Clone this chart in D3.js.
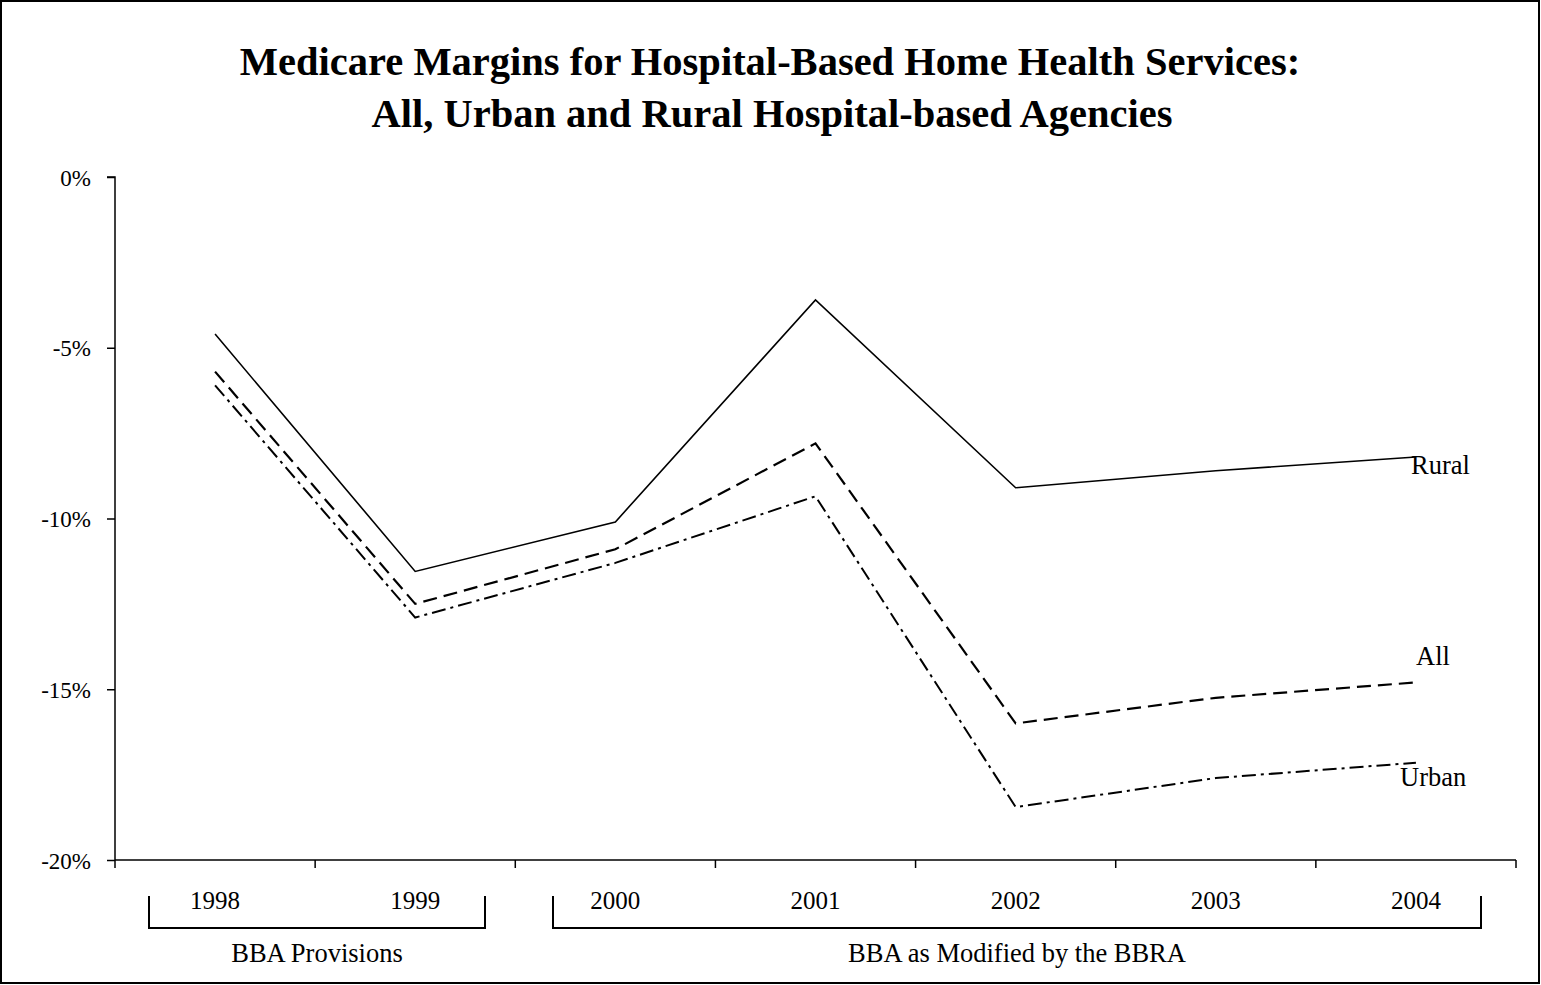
<!DOCTYPE html>
<html>
<head>
<meta charset="utf-8">
<script src="https://cdn.jsdelivr.net/npm/d3@7"></script>
<style>
  html, body { margin: 0; padding: 0; background: #fff; }
  svg { display: block; }
  text { font-family: "Liberation Serif", "Times New Roman", serif; fill: #000; }
</style>
</head>
<body>
<svg id="chart" width="1541" height="985"></svg>
<script>
const titleLines = ["Medicare Margins for Hospital-Based Home Health Services:",
                    "All, Urban and Rural Hospital-based Agencies"];
const years = ["1998", "1999", "2000", "2001", "2002", "2003", "2004"];
const rural = [-4.6, -11.55, -10.1, -3.6, -9.1, -8.6, -8.2];
const all   = [-5.7, -12.5, -10.9, -7.8, -16.0, -15.25, -14.8];
const urban = [-6.1, -12.9, -11.3, -9.35, -18.45, -17.6, -17.15];
const yTicks = [0, -5, -10, -15, -20];
const groups = [
  {label: "BBA Provisions", from: "1998", to: "1999"},
  {label: "BBA as Modified by the BBRA", from: "2000", to: "2004"}
];
const seriesNames = ["Rural", "All", "Urban"];

(function () {
const svg = d3.select("#chart");
const W = 1541, H = 985;
const pLeft = 115, pRight = 1516, pTop = 177, pBottom = 860;

// outer border
svg.append("rect").attr("x", 1).attr("y", 1).attr("width", W - 3).attr("height", H - 3)
  .attr("fill", "none").attr("stroke", "#000").attr("stroke-width", 2);

// title
svg.append("text").attr("x", 770).attr("y", 75).attr("text-anchor", "middle")
  .style("font-size", "40.5px").style("font-weight", "bold").text(titleLines[0]);
svg.append("text").attr("x", 772).attr("y", 127).attr("text-anchor", "middle")
  .style("font-size", "40.5px").style("font-weight", "bold").text(titleLines[1]);

const x = d3.scaleBand().domain(years).range([pLeft, pRight]).padding(0);
const cx = d => x(d) + x.bandwidth() / 2;
const y = d3.scaleLinear().domain([-20, 0]).range([pBottom, pTop]);

// y axis
const yAxis = d3.axisLeft(y).tickValues(yTicks).tickSize(8).tickPadding(16)
  .tickFormat(d => d + "%");
const gy = svg.append("g").attr("transform", `translate(${pLeft},0)`).call(yAxis);
gy.select(".domain").attr("stroke", "#000").attr("stroke-width", 1.5).attr("d", `M-8,${pTop}H0V${pBottom}`);
gy.selectAll(".tick line").attr("stroke", "#000").attr("stroke-width", 1.5);
gy.selectAll(".tick text").style("font-size", "23px").style("font-family", "Liberation Serif, serif")
  .attr("dy", "0.35em");

// x axis (ticks at band edges)
const edges = years.map(d => x(d)).concat([x(years[years.length - 1]) + x.bandwidth()]);
const gx = svg.append("g");
gx.append("line").attr("x1", pLeft).attr("x2", pRight).attr("y1", pBottom).attr("y2", pBottom)
  .attr("stroke", "#000").attr("stroke-width", 1.5);
gx.selectAll("line.t").data(edges).enter().append("line").attr("class", "t")
  .attr("x1", d => d).attr("x2", d => d).attr("y1", pBottom).attr("y2", pBottom + 8)
  .attr("stroke", "#000").attr("stroke-width", 1.5);
gx.selectAll("text.yr").data(years).enter().append("text").attr("class", "yr")
  .attr("x", d => cx(d)).attr("y", 909).attr("text-anchor", "middle")
  .style("font-size", "25px").text(d => d);

// group brackets
const brackets = [
  {x1: 149, x2: 485},
  {x1: 553, x2: 1481}
];
groups.forEach((g, i) => {
  const b = brackets[i];
  svg.append("path").attr("d", `M${b.x1},896V928H${b.x2}V896`)
    .attr("fill", "none").attr("stroke", "#000").attr("stroke-width", 2);
  svg.append("text").attr("x", (b.x1 + b.x2) / 2).attr("y", 962).attr("text-anchor", "middle")
    .style("font-size", "26.5px").text(g.label);
});

// lines
const line = d3.line().x((d, i) => cx(years[i])).y(d => y(d));
const styles = [
  {data: rural, dash: null, w: 1.6},
  {data: all, dash: "14,7", w: 2.2},
  {data: urban, dash: "14,5,3,5", w: 2.0}
];
styles.forEach(s => {
  svg.append("path").datum(s.data).attr("d", line).attr("fill", "none")
    .attr("stroke", "#000").attr("stroke-width", s.w)
    .attr("stroke-dasharray", s.dash);
});

// series labels
const labelPos = [
  {x: 1411, y: 474},
  {x: 1416, y: 665},
  {x: 1400, y: 786}
];
seriesNames.forEach((n, i) => {
  svg.append("text").attr("x", labelPos[i].x).attr("y", labelPos[i].y)
    .style("font-size", "26.5px").text(n);
});
})();
</script>
</body>
</html>
